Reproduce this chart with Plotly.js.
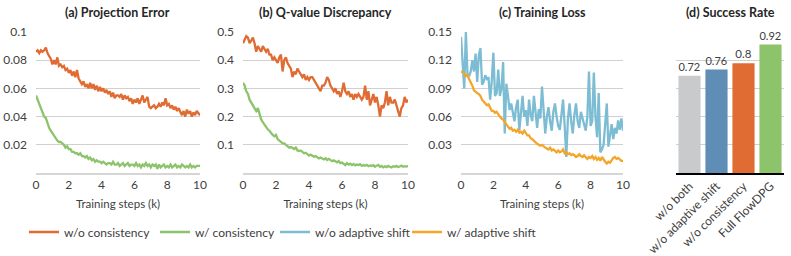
<!DOCTYPE html>
<html>
<head>
<meta charset="utf-8">
<script src="https://cdn.plot.ly/plotly-3.0.1.min.js"></script>
<style>
  html, body { margin: 0; padding: 0; background: #ffffff; }
  #chart { width: 791px; height: 256px; }
</style>
</head>
<body>
<div id="chart"></div>
<script>
// Training steps (k), sampled every 0.1k
const steps = [0,0.1,0.2,0.3,0.4,0.5,0.6,0.7,0.8,0.9,1,1.1,1.2,1.3,1.4,1.5,1.6,1.7,1.8,1.9,
  2,2.1,2.2,2.3,2.4,2.5,2.6,2.7,2.8,2.9,3,3.1,3.2,3.3,3.4,3.5,3.6,3.7,3.8,3.9,
  4,4.1,4.2,4.3,4.4,4.5,4.6,4.7,4.8,4.9,5,5.1,5.2,5.3,5.4,5.5,5.6,5.7,5.8,5.9,
  6,6.1,6.2,6.3,6.4,6.5,6.6,6.7,6.8,6.9,7,7.1,7.2,7.3,7.4,7.5,7.6,7.7,7.8,7.9,
  8,8.1,8.2,8.3,8.4,8.5,8.6,8.7,8.8,8.9,9,9.1,9.2,9.3,9.4,9.5,9.6,9.7,9.8,9.9,10];
const stepTicks = [0, 2, 4, 6, 8, 10];

// (a) Projection error
const projErrNoCons = [0.086,0.087,0.085,0.087,0.086,0.087,0.089,0.085,0.083,0.081,
  0.077,0.080,0.077,0.082,0.076,0.077,0.075,0.076,0.073,0.074,
  0.071,0.073,0.069,0.072,0.068,0.073,0.067,0.065,0.063,0.065,
  0.061,0.063,0.060,0.064,0.060,0.063,0.059,0.062,0.058,0.061,
  0.058,0.060,0.057,0.059,0.056,0.058,0.054,0.057,0.053,0.055,
  0.055,0.054,0.056,0.052,0.055,0.053,0.054,0.051,0.053,0.049,
  0.052,0.050,0.053,0.049,0.052,0.055,0.050,0.052,0.054,0.047,
  0.046,0.047,0.048,0.046,0.047,0.049,0.047,0.050,0.048,0.053,
  0.048,0.049,0.046,0.048,0.045,0.047,0.044,0.046,0.043,0.041,
  0.044,0.040,0.045,0.042,0.044,0.040,0.043,0.041,0.044,0.042,0.041];
const projErrCons = [0.055,0.052,0.049,0.046,0.042,0.040,0.039,0.035,0.032,0.030,
  0.028,0.027,0.025,0.023,0.022,0.022,0.021,0.020,0.018,0.019,
  0.017,0.017,0.015,0.015,0.014,0.014,0.013,0.014,0.012,0.012,
  0.011,0.012,0.010,0.011,0.009,0.010,0.008,0.009,0.008,0.008,
  0.007,0.008,0.007,0.006,0.007,0.007,0.006,0.008,0.006,0.006,
  0.007,0.005,0.006,0.007,0.005,0.006,0.007,0.005,0.006,0.006,
  0.005,0.007,0.005,0.006,0.004,0.006,0.005,0.007,0.005,0.006,
  0.004,0.006,0.005,0.006,0.003,0.006,0.004,0.005,0.006,0.004,
  0.005,0.004,0.006,0.004,0.005,0.006,0.004,0.005,0.004,0.006,
  0.005,0.004,0.005,0.004,0.006,0.004,0.005,0.004,0.005,0.005,0.005];
const projErrTicks = [0.02, 0.04, 0.06, 0.08, 0.1];

// (b) Q-value discrepancy
const qDiscNoCons = [0.46,0.47,0.485,0.48,0.46,0.47,0.48,0.46,0.43,0.45,
  0.44,0.43,0.45,0.44,0.43,0.44,0.42,0.42,0.40,0.41,
  0.40,0.39,0.41,0.42,0.36,0.40,0.41,0.39,0.38,0.37,
  0.34,0.36,0.35,0.37,0.36,0.35,0.34,0.35,0.33,0.34,
  0.33,0.34,0.34,0.33,0.32,0.31,0.30,0.29,0.31,0.31,
  0.32,0.34,0.33,0.31,0.30,0.29,0.30,0.28,0.29,0.27,
  0.29,0.32,0.29,0.28,0.29,0.27,0.28,0.26,0.28,0.27,
  0.28,0.27,0.26,0.27,0.31,0.26,0.29,0.24,0.26,0.28,
  0.25,0.27,0.24,0.20,0.24,0.23,0.25,0.29,0.24,0.27,
  0.25,0.25,0.26,0.24,0.22,0.20,0.23,0.24,0.27,0.25,0.26];
const qDiscCons = [0.32,0.31,0.29,0.28,0.26,0.25,0.24,0.23,0.22,0.23,
  0.21,0.19,0.18,0.17,0.16,0.155,0.15,0.14,0.135,0.13,
  0.135,0.12,0.115,0.11,0.105,0.105,0.10,0.095,0.09,0.092,
  0.088,0.085,0.09,0.08,0.078,0.08,0.075,0.07,0.072,0.065,
  0.062,0.065,0.06,0.058,0.06,0.055,0.052,0.055,0.05,0.048,
  0.052,0.046,0.05,0.045,0.042,0.045,0.04,0.038,0.042,0.035,
  0.037,0.033,0.028,0.035,0.03,0.033,0.028,0.032,0.027,0.03,
  0.028,0.031,0.025,0.028,0.026,0.029,0.024,0.027,0.025,0.028,
  0.022,0.026,0.029,0.022,0.025,0.02,0.024,0.021,0.025,0.022,
  0.02,0.024,0.022,0.025,0.021,0.023,0.026,0.022,0.024,0.023,0.025];
const qDiscTicks = [0.1, 0.2, 0.3, 0.4, 0.5];

// (c) Training loss
const lossNoShift = [0.145,0.120,0.090,0.150,0.105,0.103,0.108,0.120,0.108,0.127,
  0.097,0.125,0.133,0.094,0.097,0.104,0.100,0.101,0.078,0.098,
  0.128,0.082,0.085,0.110,0.082,0.090,0.118,0.042,0.095,0.082,
  0.067,0.074,0.062,0.055,0.070,0.078,0.045,0.062,0.082,0.060,
  0.067,0.050,0.078,0.062,0.055,0.082,0.060,0.048,0.068,0.058,
  0.092,0.062,0.042,0.060,0.070,0.055,0.045,0.065,0.074,0.060,
  0.050,0.046,0.065,0.078,0.050,0.017,0.058,0.074,0.055,0.042,
  0.062,0.074,0.055,0.048,0.065,0.058,0.052,0.045,0.060,0.108,
  0.050,0.055,0.107,0.060,0.038,0.085,0.022,0.025,0.030,0.055,
  0.074,0.028,0.040,0.052,0.036,0.048,0.042,0.056,0.046,0.058,0.045];
const lossShift = [0.108,0.107,0.106,0.103,0.104,0.100,0.097,0.093,0.088,0.086,
  0.085,0.084,0.082,0.078,0.076,0.074,0.072,0.073,0.070,0.066,
  0.066,0.064,0.065,0.062,0.060,0.058,0.057,0.054,0.052,0.050,
  0.047,0.048,0.045,0.046,0.044,0.046,0.043,0.044,0.042,0.045,
  0.042,0.040,0.040,0.037,0.036,0.034,0.032,0.031,0.030,0.029,
  0.030,0.028,0.027,0.026,0.025,0.027,0.024,0.025,0.023,0.022,
  0.024,0.022,0.023,0.025,0.021,0.022,0.020,0.021,0.019,0.020,
  0.019,0.017,0.018,0.020,0.018,0.017,0.019,0.017,0.015,0.017,
  0.016,0.018,0.015,0.017,0.014,0.016,0.013,0.017,0.014,0.012,
  0.010,0.012,0.011,0.014,0.016,0.017,0.015,0.016,0.014,0.013,0.013];
const lossTicks = [0.03, 0.06, 0.09, 0.12, 0.15];

// (d) Success rate
const variants = ['w/o both', 'w/o adaptive shift', 'w/o consistency', 'Full FlowDPG'];
const successRate = [0.72, 0.76, 0.8, 0.92];

const seriesNames = ['w/o consistency', 'w/ consistency', 'w/o adaptive shift', 'w/ adaptive shift'];
const C_ORANGE = '#e06b33', C_GREEN = '#8dc46b', C_BLUE = '#7cbdd3', C_AMBER = '#f4a52a';
const barColors = ['#c8cacb', '#5f8db6', '#e06b33', '#8dc46b'];

const FONT = 'Lato, "Open Sans", sans-serif';
const TXT = '#404040';
const W = 791, H = 256;
const px = v => v / W;
const py = v => 1 - v / H;

function line(x, y, xa, ya, name, color, legend, show) {
  return { type: 'scatter', mode: 'lines', x: x, y: y, xaxis: xa, yaxis: ya,
    name: name, line: { color: color, width: 2.3 }, legend: legend,
    showlegend: show, hoverinfo: 'skip' };
}

const traces = [
  line(steps, projErrNoCons, 'x', 'y', seriesNames[0], C_ORANGE, 'legend', true),
  line(steps, projErrCons, 'x', 'y', seriesNames[1], C_GREEN, 'legend2', true),
  line(steps, qDiscNoCons, 'x2', 'y2', seriesNames[0], C_ORANGE, 'legend', false),
  line(steps, qDiscCons, 'x2', 'y2', seriesNames[1], C_GREEN, 'legend2', false),
  line(steps, lossNoShift, 'x3', 'y3', seriesNames[2], C_BLUE, 'legend3', true),
  line(steps, lossShift, 'x3', 'y3', seriesNames[3], C_AMBER, 'legend4', true),
  { type: 'bar', x: variants, y: successRate, xaxis: 'x4', yaxis: 'y4',
    marker: { color: barColors }, text: successRate.map(String),
    textposition: 'outside', cliponaxis: false,
    textfont: { family: FONT, size: 11.5, color: TXT },
    showlegend: false, hoverinfo: 'skip' }
];

const yTop = py(32), yBot = py(173);

function xLine(domain) {
  return { domain: domain, range: [0, 10], tickvals: stepTicks,
    showgrid: false, zeroline: false, showline: true, linecolor: '#d6d6d6', linewidth: 2,
    ticks: '', tickfont: { family: FONT, size: 12, color: TXT },
    title: { text: 'Training steps (k)', font: { family: FONT, size: 11.5, color: TXT }, standoff: 9 } };
}
function yLine(range, vals) {
  return { domain: [yBot, yTop], range: range, tickvals: vals,
    showgrid: true, gridcolor: '#d0d0d0', gridwidth: 1, zeroline: false, showline: false,
    ticks: '', ticklabelstandoff: 8, tickfont: { family: FONT, size: 12, color: TXT } };
}

const dA = [px(36), px(200)], dB = [px(243), px(408)], dC = [px(461), px(623)], dD = [px(676), px(784)];

function legendAt(xpx) {
  return { orientation: 'h', x: px(xpx), xanchor: 'left', y: py(232), yanchor: 'middle',
    bgcolor: 'rgba(0,0,0,0)', borderwidth: 0, itemwidth: 30,
    font: { family: FONT, size: 12, color: TXT } };
}

function panelTitle(text, domain) {
  return { text: '<b>' + text + '</b>', xref: 'paper', yref: 'paper',
    x: (domain[0] + domain[1]) / 2, y: py(12), xanchor: 'center', yanchor: 'middle',
    showarrow: false, font: { family: FONT, size: 12.5, color: '#262626' } };
}

const layout = {
  width: W, height: H, margin: { l: 0, r: 0, t: 0, b: 0 },
  paper_bgcolor: '#ffffff', plot_bgcolor: '#ffffff',
  xaxis: xLine(dA), yaxis: yLine([0, 0.1], projErrTicks),
  xaxis2: Object.assign(xLine(dB), { anchor: 'y2' }), yaxis2: Object.assign(yLine([0, 0.5], qDiscTicks), { anchor: 'x2' }),
  xaxis3: Object.assign(xLine(dC), { anchor: 'y3' }), yaxis3: Object.assign(yLine([0, 0.15], lossTicks), { anchor: 'x3' }),
  xaxis4: { domain: dD, anchor: 'y4', type: 'category', showgrid: false, zeroline: false,
    showline: true, linecolor: '#000000', linewidth: 1.5, ticks: '', tickangle: -45,
    tickfont: { family: FONT, size: 12, color: TXT } },
  yaxis4: { domain: [yBot, yTop], anchor: 'x4', range: [0.1, 1.0], tick0: 0.1, dtick: 0.18,
    showgrid: true, gridcolor: '#d0d0d0', gridwidth: 1, zeroline: false, showline: false,
    showticklabels: false, ticks: '' },
  bargap: 0.18,
  legend: legendAt(24), legend2: legendAt(155), legend3: legendAt(275), legend4: legendAt(407),
  annotations: [
    panelTitle('(a) Projection Error', dA),
    panelTitle('(b) Q-value Discrepancy', dB),
    panelTitle('(c) Training Loss', dC),
    panelTitle('(d) Success Rate', dD)
  ]
};

Plotly.newPlot('chart', traces, layout, { staticPlot: true, displayModeBar: false });
</script>
</body>
</html>
